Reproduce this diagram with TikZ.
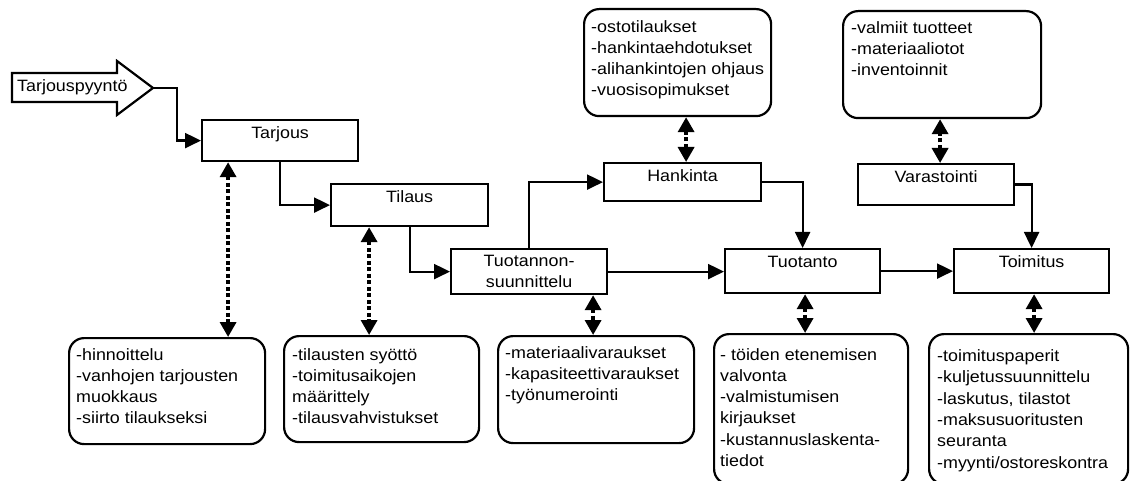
\documentclass[tikz,border=0pt]{standalone}
\usepackage{fontspec}
\setmainfont{Liberation Sans}[FakeStretch=1.09]
\usetikzlibrary{arrows.meta}
\begin{document}
\begin{tikzpicture}[x=1pt, y=-1pt,
  every node/.style={font=\fontsize{16.4pt}{21.3pt}\selectfont},
  proc/.style={draw, line width=2.2pt, fill=white, inner xsep=0pt, inner ysep=0pt,
               text height=18pt, anchor=north west},
  twoline/.style={draw, line width=2.2pt, fill=white, inner sep=0pt, align=center,
               anchor=north west},
  info/.style={draw, line width=2.2pt, rounded corners=15pt, inner sep=0pt,
               anchor=north west},
  infotext/.style={align=left, anchor=north west, inner sep=0pt},
  flow/.style={line width=2.2pt, -{Triangle[length=16pt,width=15pt]}},
  link/.style={line width=3.5pt, dash pattern=on 4pt off 2.5pt,
               {Triangle[length=15pt,width=16pt]}-{Triangle[length=15pt,width=16pt]}}]

\fill[white] (0,0) rectangle (1130,481);
\useasboundingbox (0,0) rectangle (1130,481);

% incoming request (block arrow)
\draw[line width=2.2pt, fill=white]
  (12,73) -- (117,73) -- (117,61) -- (153,88) -- (117,115) -- (117,102) -- (12,102) -- cycle;
\node[anchor=base west, inner sep=0pt] (req) at (17,92) {Tarjouspyyntö};
\coordinate (reqtip) at (153,88);

% process steps
\node[proc, minimum width=156pt, text depth=23pt] (tarjous) at (201,119) {Tarjous};
\node[proc, minimum width=157pt, text depth=24pt] (tilaus) at (330,183) {Tilaus};
\node[twoline, minimum width=156pt, minimum height=45pt] (suunn) at (450,248) {Tuotannon-\\suunnittelu};
\node[proc, minimum width=157pt, text depth=20pt] (hankinta) at (603,162) {Hankinta};
\node[proc, minimum width=156pt, text depth=23pt] (varasto) at (857,163) {Varastointi};
\node[proc, minimum width=155pt, text depth=26pt] (tuotanto) at (724,248) {Tuotanto};
\node[proc, minimum width=155pt, text depth=26pt] (toimitus) at (953,248) {Toimitus};

% detail boxes
\node[info, minimum width=187pt, minimum height=107pt] (ihank) at (583,8) {};
\node[infotext] (ihankt) at ([shift={(8,12)}]ihank.north west)
  {-ostotilaukset\\-hankintaehdotukset\\-alihankintojen ohjaus\\-vuosisopimukset};

\node[info, minimum width=198pt, minimum height=107pt] (ivar) at (842,10) {};
\node[infotext] (ivart) at ([shift={(9,11)}]ivar.north west)
  {-valmiit tuotteet\\-materiaaliotot\\-inventoinnit};

\node[info, minimum width=196pt, minimum height=106pt] (itarj) at (68,337) {};
\node[infotext] (itarjt) at ([shift={(8,11)}]itarj.north west)
  {-hinnoittelu\\-vanhojen tarjousten\\muokkaus\\-siirto tilaukseksi};

\node[info, minimum width=195pt, minimum height=106pt] (itil) at (283,335) {};
\node[infotext] (itilt) at ([shift={(9,13)}]itil.north west)
  {-tilausten syöttö\\-toimitusaikojen\\määrittely\\-tilausvahvistukset};

\node[info, minimum width=196pt, minimum height=107pt] (isuun) at (497,335) {};
\node[infotext] (isuunt) at ([shift={(8,11)}]isuun.north west)
  {-materiaalivaraukset\\-kapasiteettivaraukset\\-työnumerointi};

\node[info, minimum width=194pt, minimum height=150pt] (ituot) at (713,333) {};
\node[infotext] (ituott) at ([shift={(7,15)}]ituot.north west)
  {- töiden etenemisen\\valvonta\\-valmistumisen\\kirjaukset\\-kustannuslaskenta-\\tiedot};

\node[info, minimum width=199pt, minimum height=150pt] (itoim) at (928,333) {};
\node[infotext] (itoimt) at ([shift={(9,16.5)}]itoim.north west)
  {-toimituspaperit\\-kuljetussuunnittelu\\-laskutus, tilastot\\-maksusuoritusten\\seuranta\\-myynti/ostoreskontra};

% main flow
\draw[flow] (reqtip) -- ++(24,0) |- (tarjous.west);
\draw[flow] (tarjous.south) |- (tilaus.west);
\draw[flow] (tilaus.south) |- (suunn.west);
\draw[flow] (suunn.north) |- (hankinta.west);
\draw[flow] (suunn.east) -- (suunn.east -| tuotanto.west);
\draw[flow] (hankinta.east) -| (tuotanto.north);
\draw[flow] (tuotanto.east) -- (tuotanto.east -| toimitus.west);
\draw[flow] (varasto.east) -| (toimitus.north);

% information links
\draw[link] ([xshift=-52pt]tarjous.south) coordinate (lt) -- (lt |- itarj.north);
\draw[link] ([xshift=-40.5pt]tilaus.south) coordinate (ll) -- (ll |- itil.north);
\draw[link] ([xshift=64pt]suunn.south) coordinate (ls) -- (ls |- isuun.north);
\draw[link] ([xshift=2.5pt]tuotanto.south) coordinate (lp) -- (lp |- ituot.north);
\draw[link] ([xshift=2.5pt]toimitus.south) coordinate (lm) -- (lm |- itoim.north);
\draw[link] ([xshift=3.5pt]hankinta.north) coordinate (lh) -- (lh |- ihank.south);
\draw[link] ([xshift=4pt]varasto.north) coordinate (lv) -- (lv |- ivar.south);
\end{tikzpicture}
\end{document}
